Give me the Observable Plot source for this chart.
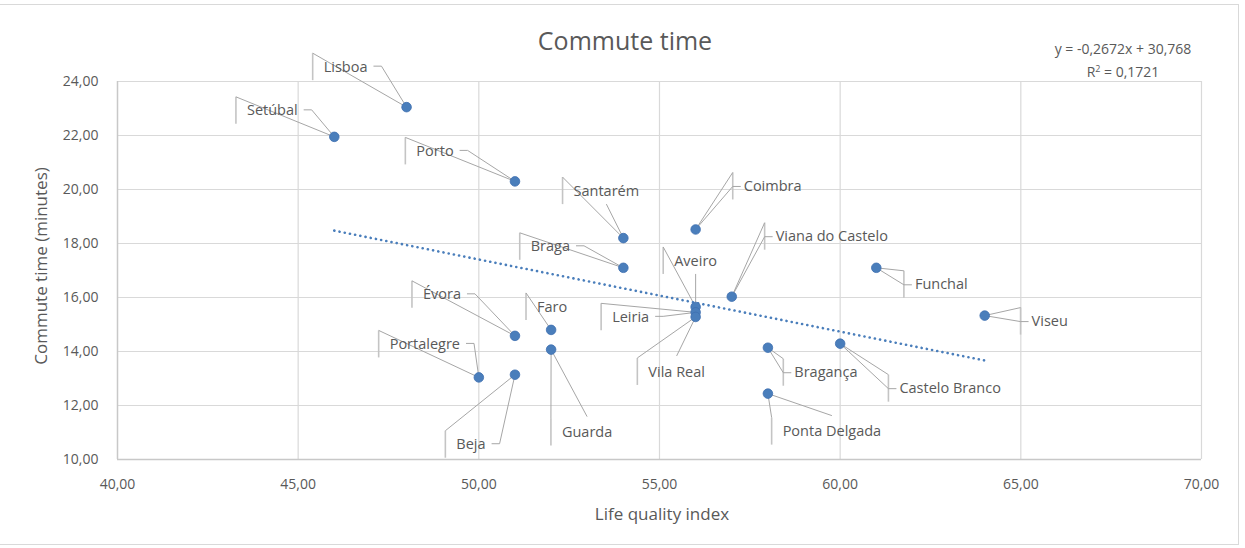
<!DOCTYPE html>
<html>
<head>
<meta charset="utf-8">
<script src="https://cdn.jsdelivr.net/npm/d3@7"></script>
<script src="https://cdn.jsdelivr.net/npm/@observablehq/plot@0.6"></script>
<style>
  html, body { margin: 0; padding: 0; background: #fff; }
  body { width: 1245px; height: 548px; position: relative; overflow: hidden; font-family: "Open Sans", sans-serif; color: #595959; }
  #frame { position: absolute; left: -1px; top: 4px; width: 1240px; height: 541px; border: 1px solid #d9d9d9; box-sizing: border-box; }
  #chart { position: absolute; left: 0; top: 0; }
  .ov { position: absolute; white-space: nowrap; transform: translate(-50%, -50%); color: #595959; }
</style>
</head>
<body>
<div id="frame"></div>
<div id="chart"></div>
<div class="ov" style="left:625px; top:40px; font-size:25px;">Commute time</div>
<div class="ov" style="left:1123px; top:48px; font-size:14px;">y = -0,2672x + 30,768</div>
<div class="ov" style="left:1123px; top:71px; font-size:14px;">R<sup style="font-size:9px; vertical-align: 5px; line-height:0;">2</sup> = 0,1721</div>
<div class="ov" style="left:662px; top:513px; font-size:17px;">Life quality index</div>
<div class="ov" style="left:40px; top:266px; font-size:17px; transform: translate(-50%,-50%) rotate(-90deg);">Commute time (minutes)</div>
<script>
// ---- data ----
const cities = ["Lisboa","Setúbal","Porto","Santarém","Braga","Coimbra","Viana do Castelo","Aveiro","Leiria","Vila Real","Faro","Évora","Portalegre","Beja","Guarda","Ponta Delgada","Bragança","Castelo Branco","Funchal","Viseu"];
const lifeQuality = [48, 46, 51, 54, 54, 56, 57, 56, 56, 56, 52, 51, 50, 51, 52, 58, 58, 60, 61, 64];
const commuteTime = [23.05, 21.95, 20.3, 18.2, 17.1, 18.52, 16.03, 15.65, 15.45, 15.28, 14.8, 14.58, 13.04, 13.14, 14.07, 12.44, 14.14, 14.29, 17.1, 15.33];
const xTicks = [40, 45, 50, 55, 60, 65, 70];
const yTicks = [10, 12, 14, 16, 18, 20, 22, 24];
const trendSlope = -0.2672, trendIntercept = 30.768;   // from the chart's trendline equation
const trendRange = [46, 64];

// ---- label layout (pixel offsets of each label's centre from its point) ----
const labelOffset = [[-61,-40],[-62,-26],[-80,-30],[-17,-47],[-73,-21],[77,-43],[100,-60],[0,-46],[-65,5],[-19,55],[1,-23],[-73,-41],[-54,-33],[-44,70],[36,83],[64,38],[58,25],[110,45],[65,17],[65,6]];
const leaderType = ["L","L","L","A","L","R","R","A","L","B","F","L","L","L","B","B","R","R","R","R"];

const W = 1245, H = 548, mL = 117, mR = 44, mT = 81, mB = 89;
const ux = (70 - 40) / (W - mL - mR), uy = (24 - 10) / (H - mT - mB);
const fmt = d => d.toFixed(2).replace(".", ",");
const labelFont = 14.5;
const ctx = document.createElement("canvas").getContext("2d");
ctx.font = `${labelFont}px "Open Sans"`;

const pts = cities.map((c, i) => ({city: c, x: lifeQuality[i], y: commuteTime[i]}));
const labels = [], leaders = [], bars = [];
pts.forEach((p, i) => {
  const [ox, oy] = labelOffset[i];
  const lx = p.x + ox * ux, ly = p.y - oy * uy;
  labels.push({city: p.city, x: lx, y: ly});
  const w = ctx.measureText(p.city).width;
  const P = (a, b) => [lx + a * ux, ly - b * uy];
  const seg = (a, b) => ({x1: a[0], y1: a[1], x2: b[0], y2: b[1]});
  const pt = [p.x, p.y];
  const barX = -w / 2 - 11;
  bars.push(seg(P(barX, -14), P(barX, 13)));
  leaders.push(seg(P(barX, -14), pt));
  const t = leaderType[i];
  if (t === "L") { leaders.push(seg(P(w/2 + 6, -1), P(w/2 + 14, -1))); leaders.push(seg(P(w/2 + 14, -1), pt)); }
  if (t === "R") { leaders.push(seg(P(barX, 0), P(barX + 8, 0))); leaders.push(seg(P(barX, 0), pt)); }
  if (t === "A") { leaders.push(seg(P(0, 13), pt)); }
  if (t === "B") { leaders.push(seg(P(0, -16), pt)); }
});
const trend = trendRange.map(x => ({x, y: trendSlope * x + trendIntercept}));

const chart = Plot.plot({
  width: W, height: H,
  marginLeft: mL, marginRight: mR, marginTop: mT, marginBottom: mB,
  style: {fontFamily: '"Open Sans", sans-serif', fontSize: "14px", color: "#595959", background: "transparent"},
  x: {domain: [40, 70], ticks: xTicks, tickFormat: fmt, tickSize: 0, tickPadding: 20, label: null},
  y: {domain: [10, 24], ticks: yTicks, tickFormat: fmt, tickSize: 0, tickPadding: 19, label: null},
  marks: [
    Plot.ruleY(yTicks, {stroke: "#d9d9d9", strokeWidth: 1.2}),
    Plot.ruleX(xTicks, {stroke: "#d9d9d9", strokeWidth: 1.2}),
    Plot.ruleY([10], {stroke: "#c8c8c8", strokeWidth: 1.4}),
    Plot.ruleX([40], {stroke: "#c8c8c8", strokeWidth: 1.4}),
    Plot.link(bars, {x1: "x1", y1: "y1", x2: "x2", y2: "y2", stroke: "#c4c4c4", strokeWidth: 1.6}),
    Plot.link(leaders, {x1: "x1", y1: "y1", x2: "x2", y2: "y2", stroke: "#a6a6a6", strokeWidth: 1}),
    Plot.line(trend, {x: "x", y: "y", stroke: "#4a7ebb", strokeWidth: 2.6, strokeDasharray: "0.1 5.2", strokeLinecap: "round"}),
    Plot.dot(pts, {x: "x", y: "y", r: 4.8, fill: "#4a7ebb", stroke: "#3d6fb0", strokeWidth: 0.8}),
    Plot.text(labels, {x: "x", y: "y", text: "city", fontSize: labelFont, fill: "#595959"})
  ]
});
document.getElementById("chart").appendChild(chart);
</script>
</body>
</html>
